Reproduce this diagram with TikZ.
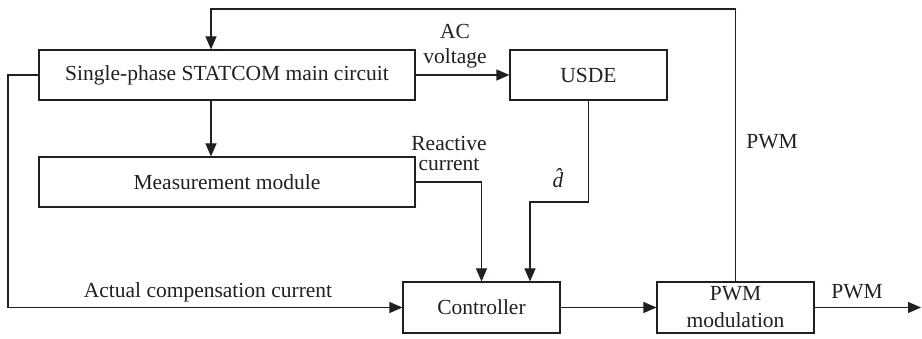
\documentclass[tikz,border=0pt]{standalone}
\usepackage{fontspec}
\setmainfont{Liberation Serif}
\usetikzlibrary{arrows.meta}
\definecolor{ink}{RGB}{35,31,32}
\begin{document}
\begin{tikzpicture}[x=1pt,y=-1pt,
  every node/.style={text=ink,font=\fontsize{21.5}{26}\selectfont},
  blk/.style={draw=ink,line width=1.2pt,inner sep=0pt,minimum height=50pt,align=center},
  arr/.style={draw=ink,line width=1.2pt,-{Triangle[length=13pt,width=11pt]}},
  lbl/.style={inner sep=0pt,align=center}]
\useasboundingbox (0,0) rectangle (922,339);
\node[blk,minimum width=376pt] (main) at (227,75) {Single-phase STATCOM main circuit};
\node[blk,minimum width=157pt] (usde) at (588.5,75) {USDE};
\node[blk,minimum width=376pt] (meas) at (227,182) {Measurement module};
\node[blk,minimum width=157pt,minimum height=51pt] (ctrl) at (481.5,307.5) {Controller};
\node[blk,minimum width=157pt,minimum height=51pt,font=\fontsize{21.5}{27}\selectfont] (pwm) at (735.5,307.5) {PWM\\modulation};
\coordinate (fb) at (211,9);
\coordinate (dj) at (530,202);
\coordinate (lx) at (8,75);
\coordinate (out) at (921,307.5);
\draw[arr] (pwm.north) |- (fb) -- (fb |- main.north);
\draw[arr] (main.east) -- (usde.west);
\draw[arr] (fb |- main.south) -- (fb |- meas.north);
\draw[arr] (meas.east) -| (ctrl.north);
\draw[arr] (usde.south) |- (dj) -- (dj |- ctrl.north);
\draw[arr] (main.west) -- (lx) |- (ctrl.west);
\draw[arr] (ctrl.east) -- (pwm.west);
\draw[arr] (pwm.east) -- (out);
\node[lbl,font=\fontsize{21.5}{25}\selectfont] (acv) at (455,46) {AC\\voltage};
\node[lbl,font=\fontsize{21.5}{20}\selectfont] (rcl) at (449,153) {Reactive\\current};
\node[lbl] (dh) at (562,178) {\textit{d̂}};
\node[lbl] (pwmfb) at (772,142) {PWM};
\node[lbl] (acc) at (208,292) {Actual compensation current};
\node[lbl] (pwmout) at (857,292) {PWM};
\end{tikzpicture}
\end{document}
